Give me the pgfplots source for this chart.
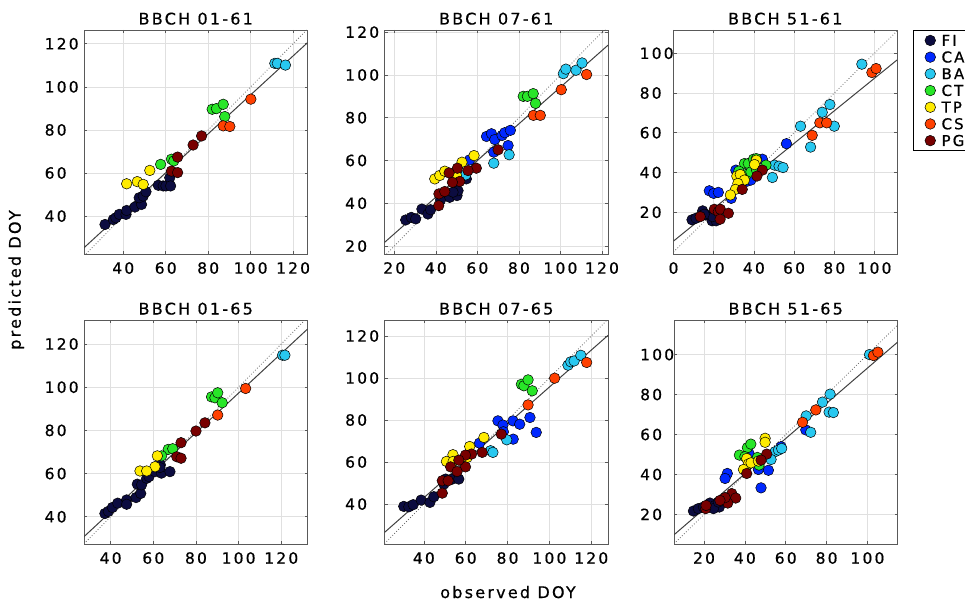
\documentclass[border=0pt]{standalone}
\usepackage{fontspec}
\setmainfont{DejaVu Sans}[LetterSpace=14, FakeBold=0.6]
\usepackage{pgfplots}
\pgfplotsset{compat=1.18}
\definecolor{fiC}{RGB}{12,12,64}
\definecolor{caC}{RGB}{0,40,255}
\definecolor{baC}{RGB}{40,200,240}
\definecolor{ctC}{RGB}{40,230,40}
\definecolor{tpC}{RGB}{255,235,0}
\definecolor{csC}{RGB}{255,64,0}
\definecolor{pgC}{RGB}{120,0,0}
\newcommand\tickfont{\fontsize{15.5}{15.5}\selectfont}
\newcommand\titlefont{\fontsize{16}{16}\selectfont}
\newcommand\labfont{\fontsize{16}{16}\selectfont}
\newcommand\legfont{\fontsize{15}{15}\selectfont}
\pgfplotsset{
  panel/.style={scale only axis, width=223.5pt, height=224pt, anchor=south west,
    grid=major, major grid style={draw=black!12, line width=0.6pt},
    axis line style={draw=black!65, line width=0.9pt},
    tick style={draw=black!65, line width=0.6pt},
    major tick length=3pt, tick align=inside,
    /pgf/number format/assume math mode=true,
    tick label style={font=\tickfont, inner sep=0pt},
    xticklabel style={anchor=north, yshift=-8pt},
    yticklabel style={anchor=west, xshift=-39.5pt},
    every axis title/.style={at={(0.5,1)}, anchor=base, yshift=5.5pt, font=\titlefont},
  },
  mk/.style={only marks, mark=*, mark size=5.3pt, mark options={draw=black, line width=0.5pt, fill=#1}},
  fi/.style={mk=fiC}, ca/.style={mk=caC}, ba/.style={mk=baC}, ct/.style={mk=ctC},
  tp/.style={mk=tpC}, cs/.style={mk=csC}, pg/.style={mk=pgC},
  oneone/.style={black!60, dotted, line width=0.8pt, forget plot},
  regl/.style={black!75, line width=1pt, forget plot},
}
\begin{document}
\begin{tikzpicture}
\useasboundingbox (0pt,0pt) rectangle (965pt,608pt);
% ---------- BBCH 01-61
\begin{axis}[panel, at={(84pt,354pt)}, title={BBCH 01-61},
  xmin=21.5, xmax=126.8, ymin=22.4, ymax=126.4, xtick={40,60,...,120}, ytick={40,60,...,120}]
\addplot[oneone] coordinates {(21.5,21.5)(126.8,126.8)};
\addplot[regl] coordinates {(21.5,25.3)(126.8,120.5)};
\addplot[fi] coordinates {(31.4,36.1)(35.3,38.4)(36.5,39.2)(38.1,40.8)(41.3,40.8)(41.6,42.6)(45.5,44.2)(48.6,45.4)(47.5,48.5)(49.4,49.3)(50.7,51.3)(56.5,54.3)(58.8,54.0)(60.1,54.0)(61.9,57.8)(62.3,54.0)};
\addplot[ba] coordinates {(111.4,110.9)(112.6,110.9)(116.4,110.1)};
\addplot[ct] coordinates {(81.9,89.6)(83.9,89.9)(87.1,91.9)(87.8,86.2)(57.6,64.0)(62.7,66.4)(63.8,65.6)};
\addplot[tp] coordinates {(41.6,55.0)(46.6,56.0)(49.4,54.7)(52.5,61.2)};
\addplot[cs] coordinates {(100.1,94.3)(87.1,81.9)(90.2,81.6)};
\addplot[pg] coordinates {(76.9,77.2)(72.9,73.0)(65.6,67.4)(62.7,60.9)(65.6,60.2)};
\end{axis}
% ---------- BBCH 07-61
\begin{axis}[panel, at={(384.5pt,354pt)}, title={BBCH 07-61},
  xmin=15.3, xmax=122.9, ymin=16.3, ymax=121, xtick={20,40,...,120}, ytick={20,40,...,120}]
\addplot[oneone] coordinates {(15.3,15.3)(122.9,122.9)};
\addplot[regl] coordinates {(15.3,21.7)(122.9,113.9)};
\addplot[fi] coordinates {(25.5,32.2)(28.2,33.4)(30.3,32.7)(33.3,37.3)(36.2,35.0)(37.5,37.0)(42.3,41.6)(46.7,42.8)(50.2,43.6)(50.7,45.9)(48.3,45.2)(54.7,51.4)};
\addplot[ca] coordinates {(64.4,71.25)(66.8,72.5)(68.4,69.8)(71.9,71.7)(73.2,73.0)(75.9,74.1)(74.8,67.0)(67.9,63.9)(56.3,60.3)};
\addplot[ba] coordinates {(101.4,100.6)(102.6,102.7)(107.5,102.2)(110.4,105.6)(67.9,58.75)(75.3,62.7)(54.4,53.3)};
\addplot[ct] coordinates {(82.1,90.0)(84.1,90.0)(86.9,91.25)(88.0,86.7)};
\addplot[tp] coordinates {(39.5,51.4)(41.9,53.0)(44.3,55.0)(49.9,53.0)(52.6,59.2)(58.4,62.3)};
\addplot[cs] coordinates {(112.6,100.2)(100.4,93.1)(87.0,81.1)(90.3,81.1)};
\addplot[pg] coordinates {(70.0,65.0)(59.5,56.4)(55.5,55.3)(50.4,56.4)(46.4,54.2)(51.5,50.2)(48.0,49.8)(41.5,44.4)(44.3,45.5)(41.4,38.9)};
\end{axis}
% ---------- BBCH 51-61
\begin{axis}[panel, at={(673.5pt,354pt)}, title={BBCH 51-61},
  xmin=0, xmax=111.2, ymin=-1, ymax=111.7, xtick={0,20,...,100}, ytick={20,40,...,100},
  yticklabel style={xshift=5.5pt},
  legend cell align=left,
  legend style={at={(1.0716,1)}, anchor=north west, draw=black, line width=0.9pt, fill=white,
    font=\legfont, inner xsep=11.5pt, inner ysep=4.65pt, row sep=6pt, column sep=6pt,
    nodes={inner sep=0pt, text height=10.7pt, text depth=0pt}}]
\addplot[oneone] coordinates {(0,0)(111.2,111.2)};
\addplot[regl] coordinates {(0,5.5)(111.2,96.6)};
\addplot[fi] coordinates {(9.2,16.2)(11.2,17)(14.5,20.7)(16.2,18.7)(19.2,15.7)(21.2,15.7)(19.5,17.8)(15.3,19)};
\addplot[ca] coordinates {(56.2,54.5)(44.2,46.7)(17.8,30.8)(20,29.5)(22.3,30)(28.7,27)(36.8,35.7)(38.5,36.2)(31,41.2)};
\addplot[ba] coordinates {(93.7,94.5)(77.8,74.2)(74,70.3)(80,63.3)(63.2,63.3)(68.2,52.8)(50.3,43.7)(52.5,43.2)(54.5,42.5)(49.2,37.5)};
\addplot[ct] coordinates {(35.3,44.5)(37.2,44.5)(39.8,46.7)(41.2,47)(46,43.7)(32.5,40.7)(36.2,39)(38.5,40.3)(41.3,41.2)};
\addplot[tp] coordinates {(41.2,46.2)(40.3,44)(31.5,38.2)(33.2,39)(35.3,36.2)(32,34.5)(30.8,31.5)(28.3,28.7)};
\addplot[cs] coordinates {(98.7,90.3)(100.8,92.3)(72.8,65)(76.2,65)(69,58.7)};
\addplot[pg] coordinates {(44.2,41.2)(41.5,38.2)(34.2,31.5)(20.3,21.5)(22.3,20.3)(23.3,21.5)(27.3,19.5)(23.2,16.5)(13.3,17.8)};
\legend{FI,CA,BA,CT,TP,CS,PG}
\end{axis}
% ---------- BBCH 01-65
\begin{axis}[panel, at={(84pt,64pt)}, title={BBCH 01-65},
  xmin=27.5, xmax=132.3, ymin=27.4, ymax=131.1, xtick={40,60,...,120}, ytick={40,60,...,120}]
\addplot[oneone] coordinates {(27.5,27.5)(132.3,132.3)};
\addplot[regl] coordinates {(27.5,30.8)(132.3,126.9)};
\addplot[fi] coordinates {(37.3,41.5)(38.9,42.5)(40.8,44.3)(43.3,46.3)(47.5,47.8)(47.5,45.8)(51.9,48.9)(54.1,50.8)(52.5,55.1)(54.5,54.8)(56.9,57.8)(58,58.6)(60.8,60.9)(63.3,64)(63.8,60.2)(67.8,60.9)(63.1,62.8)};
\addplot[ba] coordinates {(120.6,114.8)(121.7,114.8)};
\addplot[ct] coordinates {(87.3,95.5)(88.9,95.1)(90.2,97.4)(92.3,92.8)(67,71.2)(69.1,71.5)(63.9,68.2)};
\addplot[tp] coordinates {(61.9,68.2)(60.8,63.2)(53.75,61.2)(56.9,61.2)};
\addplot[cs] coordinates {(103.3,99.4)(90.2,87.1)};
\addplot[pg] coordinates {(84.2,83.5)(80,79.7)(73,74.3)(71,67.8)(73,67.1)};
\end{axis}
% ---------- BBCH 07-65
\begin{axis}[panel, at={(384.5pt,64pt)}, title={BBCH 07-65},
  xmin=21.2, xmax=128, ymin=21, ymax=127.6, xtick={40,60,...,120}, ytick={40,60,...,120}]
\addplot[oneone] coordinates {(21.2,21.2)(128,128)};
\addplot[regl] coordinates {(21.2,26.5)(128,120.3)};
\addplot[fi] coordinates {(30.4,38.9)(32.8,38.7)(34.9,39.7)(38.7,41.9)(42.9,40.8)(44.8,43.5)(50.4,51.9)(53.6,51.9)(56.7,51.9)(49.6,49.5)};
\addplot[ca] coordinates {(75.4,79.6)(77.8,77.6)(82.6,79.6)(85.8,78)(90.7,81.2)(93.7,74.1)(82.7,70.9)(66.6,69)(78,74.4)};
\addplot[ba] coordinates {(108.9,106.1)(110.2,107.7)(111.8,108.1)(115,110.8)(71.9,65.4)(73,64.6)(79.6,70.6)};
\addplot[ct] coordinates {(86.6,97)(87.8,96.3)(89.8,99.1)(91.8,93.9)};
\addplot[tp] coordinates {(68.7,71.7)(61.9,67.4)(53.9,63.5)(50.8,60.3)(54,60.3)(60.7,62.2)};
\addplot[cs] coordinates {(117.8,107.4)(102.5,99.9)(89.8,87.2)};
\addplot[pg] coordinates {(77,73.3)(67.9,64.6)(62.8,63.8)(59.9,63.3)(59.9,57.7)(56.7,60.9)(52.8,57.7)(55.9,55.5)(48.8,51.1)(51.6,51.1)(48.8,45.2)};
\end{axis}
% ---------- BBCH 51-65
\begin{axis}[panel, at={(674pt,64pt)}, title={BBCH 51-65},
  xmin=5.3, xmax=114.7, ymin=5.2, ymax=117.3, xtick={20,40,...,100}, ytick={20,40,...,100},
  yticklabel style={xshift=5.5pt}]
\addplot[oneone] coordinates {(5.3,5.3)(114.7,114.7)};
\addplot[regl] coordinates {(5.3,9.8)(114.7,106.2)};
\addplot[fi] coordinates {(14.8,21.7)(17.2,22.9)(22.9,25.7)(25.4,24.5)(27.5,23.7)(24.6,22.9)(19.7,23.7)(27,26.2)};
\addplot[ca] coordinates {(69.8,62.3)(57.7,53.9)(42,50.5)(46.6,42.5)(51.5,42.1)(31.4,40.5)(30.3,38)(47.9,33.3)};
\addplot[ba] coordinates {(101,100)(81.7,80.2)(77.96,76.2)(81.2,71.2)(83.3,71)(70,69.3)(72.2,61.1)(54.8,51.4)(56.4,52.2)(58,53)(52.8,47.5)};
\addplot[ct] coordinates {(37.3,49.7)(41.2,53.4)(42.9,55.2)(46.1,48.5)(46.9,44.7)(40,48.9)};
\addplot[tp] coordinates {(49.9,58.1)(49.9,56.1)(40.9,48)(41.7,45.2)(39.3,42.5)(43,45.8)(46.6,46.7)};
\addplot[cs] coordinates {(102.9,99.5)(105.1,101.2)(74.7,72.3)(68.2,66.1)};
\addplot[pg] coordinates {(50.7,50.2)(47.9,47.2)(40.9,40.5)(33.6,30.4)(35.5,28.2)(31.6,25.7)(30.3,28.4)(27.8,27)(20.8,22.9)(21,24.5)};
\end{axis}
\node[rotate=90, anchor=base, font=\labfont] at (20.7pt,328pt) {predicted DOY};
\node[anchor=base, font=\labfont] at (508pt,10pt) {observed DOY};
\end{tikzpicture}
\end{document}
